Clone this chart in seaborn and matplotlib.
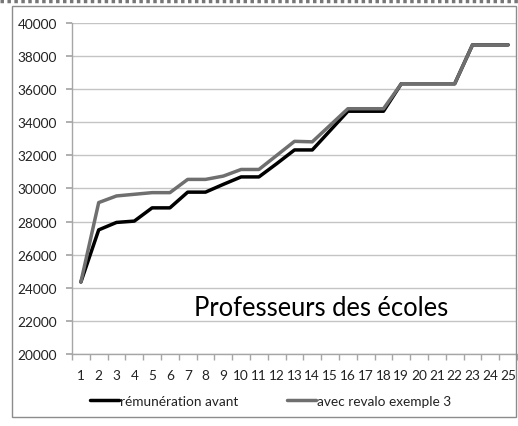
import matplotlib
matplotlib.use("Agg")
import matplotlib.pyplot as plt
import matplotlib.ticker as mticker
from matplotlib.patches import Rectangle
from matplotlib.lines import Line2D
import seaborn as sns
import pandas as pd

sns.set_theme(style="white")
plt.rcParams["font.family"] = ["Lato", "DejaVu Sans"]

echelons = list(range(1, 26))
avant = [24350, 27500, 27950, 28030, 28830, 28830, 29780, 29780, 30250, 30700,
         30700, 31500, 32330, 32330, 33500, 34670, 34670, 34670, 36330, 36330,
         36330, 36330, 38680, 38680, 38680]
revalo = [24350, 29150, 29550, 29650, 29750, 29750, 30550, 30550, 30750, 31150,
          31150, 32000, 32850, 32820, 33820, 34820, 34820, 34820, 36330, 36330,
          36330, 36330, 38680, 38680, 38680]
series_names = ["rémunération avant", "avec revalo exemple 3"]
series_colors = ["#000000", "#6f6f6f"]
title_text = "Professeurs des écoles"

df = pd.DataFrame({
    "echelon": echelons * 2,
    "salaire": avant + revalo,
    "serie": [series_names[0]] * len(echelons) + [series_names[1]] * len(echelons),
})

fig = plt.figure(figsize=(5.18, 4.27), dpi=100)
ax = fig.add_axes([72 / 518, 1 - 355 / 427, 445 / 518, 331 / 427])

sns.lineplot(data=df, x="echelon", y="salaire", hue="serie",
             hue_order=series_names, palette=series_colors,
             linewidth=2.5, legend=False, ax=ax)

ax.set_xlim(0.5, 25.5)
ax.set_ylim(20000, 40000)
ax.set_xlabel("")
ax.set_ylabel("")
ax.yaxis.set_major_locator(mticker.MultipleLocator(2000))
ax.xaxis.set_major_locator(mticker.FixedLocator(echelons))
ax.xaxis.set_minor_locator(mticker.FixedLocator([e + 0.5 for e in [0] + echelons]))
ax.grid(axis="y", color="#c4c4c4", linewidth=1.0)
ax.set_axisbelow(True)
for s in ["top", "right"]:
    ax.spines[s].set_visible(False)
for s in ["left", "bottom"]:
    ax.spines[s].set_color("#a6a6a6")
    ax.spines[s].set_linewidth(1.0)
ax.tick_params(axis="y", which="major", left=True, length=4, color="#a6a6a6",
               labelsize=9.8, pad=7, labelcolor="#222222")
ax.tick_params(axis="x", which="major", bottom=True, length=0,
               labelsize=9.8, pad=11, labelcolor="#222222")
ax.tick_params(axis="x", which="minor", bottom=True, length=4, color="#a6a6a6")

ax.text(0.56, 0.14, title_text, transform=ax.transAxes, ha="center", va="center",
        fontsize=18.4, color="#000000")

handles = [Line2D([], [], color=c, linewidth=2.5) for c in series_colors]
fig.legend(handles, series_names, loc="center", bbox_to_anchor=(0.523, 1 - 402 / 427),
           ncol=2, frameon=False, fontsize=9.8, handlelength=2.1, handletextpad=0.1,
           columnspacing=3.6, labelcolor="#222222")

# cadre du graphique et bord de page pointillé
fig.patches.append(Rectangle((12 / 518, 1 - 418 / 427), 504 / 518, 411 / 427,
                             transform=fig.transFigure, fill=False,
                             edgecolor="#8c8c8c", linewidth=1.0))
fig.lines.append(Line2D([0, 1], [1 - 2 / 427, 1 - 2 / 427], transform=fig.transFigure,
                        color="#777777", linewidth=2.5, linestyle=(0, (1, 1))))

fig.savefig("out.png", dpi=100)
